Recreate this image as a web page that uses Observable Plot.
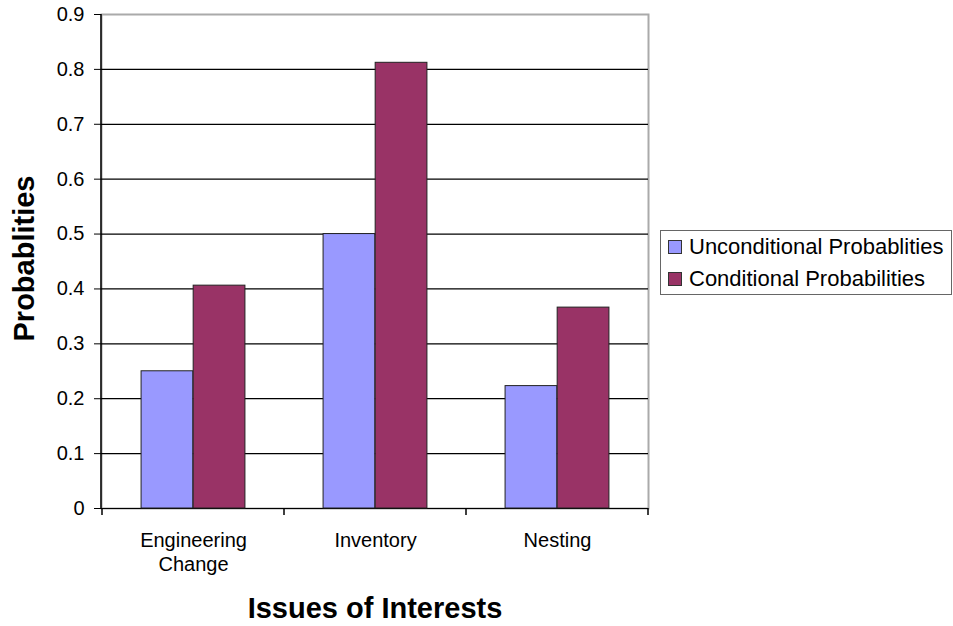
<!DOCTYPE html>
<html>
<head>
<meta charset="utf-8">
<script src="https://cdn.jsdelivr.net/npm/d3@7"></script>
<script src="https://cdn.jsdelivr.net/npm/@observablehq/plot@0.6"></script>
<style>
  body { margin: 0; background: #fff; }
  #chart { position: relative; width: 953px; height: 626px; font-family: 'Liberation Sans', Arial, sans-serif; color: #000; }
  #chart svg { display: block; }
  .legend { position: absolute; left: 660px; top: 230px; width: 292px; height: 65px; box-sizing: border-box;
            border: 1.5px solid #666; background: #fff; }
  .legend .item { position: absolute; left: 7px; height: 26px; line-height: 26px; display: flex; align-items: center;
                  font-size: 22px; white-space: nowrap; }
  .legend .swatch { width: 14px; height: 14px; box-sizing: border-box; border: 1px solid #333; margin-right: 7px; }
</style>
</head>
<body>
<div id="chart"></div>
<script>
// Issues of interest and the two probability series
const categories = ["Engineering Change", "Inventory", "Nesting"];
const unconditional = [0.25, 0.5, 0.223];
const conditional = [0.406, 0.812, 0.366];
const seriesNames = ["Unconditional Probablities", "Conditional Probabilities"];
const seriesColors = ["#9999ff", "#993366"];
const yTicks = [0, 0.1, 0.2, 0.3, 0.4, 0.5, 0.6, 0.7, 0.8, 0.9];
const xTitle = "Issues of Interests";
const yTitle = "Probablities";

const rows = categories.map((category, i) => ({category, unconditional: unconditional[i], conditional: conditional[i]}));

const W = 953, H = 626;
const margin = {left: 101, right: 305, top: 14, bottom: 118};

// Excel-style clustered columns: two bars per band with a 150% gap width
const step = (W - margin.left - margin.right) / categories.length;
const barW = step / 3.5;
const gap = 0.75 * barW;

// Left axis line and the tick marks on the category boundaries
function boundaryTicks(index, scales, values, dims) {
  const {width, height, marginLeft, marginRight, marginTop, marginBottom} = dims;
  const x = scales.x;
  const bottom = height - marginBottom;
  const edges = categories.map(c => x(c));
  edges.push(width - marginRight);
  const g = d3.create("svg:g").attr("stroke", "#000").attr("stroke-width", 1.5);
  g.append("line").attr("x1", marginLeft).attr("x2", marginLeft).attr("y1", marginTop).attr("y2", bottom + 0.5);
  for (const e of edges) {
    g.append("line").attr("x1", e).attr("x2", e).attr("y1", bottom).attr("y2", bottom + 7);
  }
  return g.node();
}

const chart = Plot.plot({
  width: W,
  height: H,
  marginLeft: margin.left,
  marginRight: margin.right,
  marginTop: margin.top,
  marginBottom: margin.bottom,
  style: {fontFamily: "'Liberation Sans', Arial, sans-serif", fontSize: "20px", color: "#000", background: "#fff", overflow: "visible"},
  x: {domain: categories, padding: 0, axis: null},
  y: {domain: [0, 0.9], axis: null},
  marks: [
    Plot.frame({stroke: "#aaa", strokeWidth: 2}),
    Plot.gridY(yTicks.filter(t => t < 0.9), {stroke: "#000", strokeOpacity: 1, strokeWidth: 1.2}),
    Plot.barY(rows, {x: "category", y: "unconditional", fill: seriesColors[0], stroke: "#222", strokeWidth: 1,
                     insetLeft: gap, insetRight: step - gap - barW}),
    Plot.barY(rows, {x: "category", y: "conditional", fill: seriesColors[1], stroke: "#222", strokeWidth: 1,
                     insetLeft: gap + barW, insetRight: gap}),
    boundaryTicks,
    Plot.axisY({ticks: yTicks, tickSize: 7, tickPadding: 10, fontSize: 20, label: null,
                tickFormat: d => d === 0 ? "0" : d3.format(".1f")(d)}),
    Plot.axisX({tickSize: 0, tickPadding: 22, fontSize: 20, lineHeight: 1.17, label: null,
                tickFormat: d => d.replace(" ", "\n")}),
    Plot.text([xTitle], {frameAnchor: "bottom", dy: 100, lineAnchor: "middle", fontSize: 29, fontWeight: "bold"}),
    Plot.text([yTitle], {frameAnchor: "left", textAnchor: "middle", dx: -77, dy: -3, rotate: -90, lineAnchor: "middle",
                         fontSize: 29, fontWeight: "bold"})
  ]
});

const root = document.getElementById("chart");
root.appendChild(chart);

// Legend box to the right of the plot area
const legend = document.createElement("div");
legend.className = "legend";
const tops = [3.2, 34.9];
seriesNames.forEach((name, i) => {
  const item = document.createElement("div");
  item.className = "item";
  item.style.top = tops[i] + "px";
  const sw = document.createElement("span");
  sw.className = "swatch";
  sw.style.background = seriesColors[i];
  const label = document.createElement("span");
  label.textContent = name;
  item.appendChild(sw);
  item.appendChild(label);
  legend.appendChild(item);
});
root.appendChild(legend);
</script>
</body>
</html>
